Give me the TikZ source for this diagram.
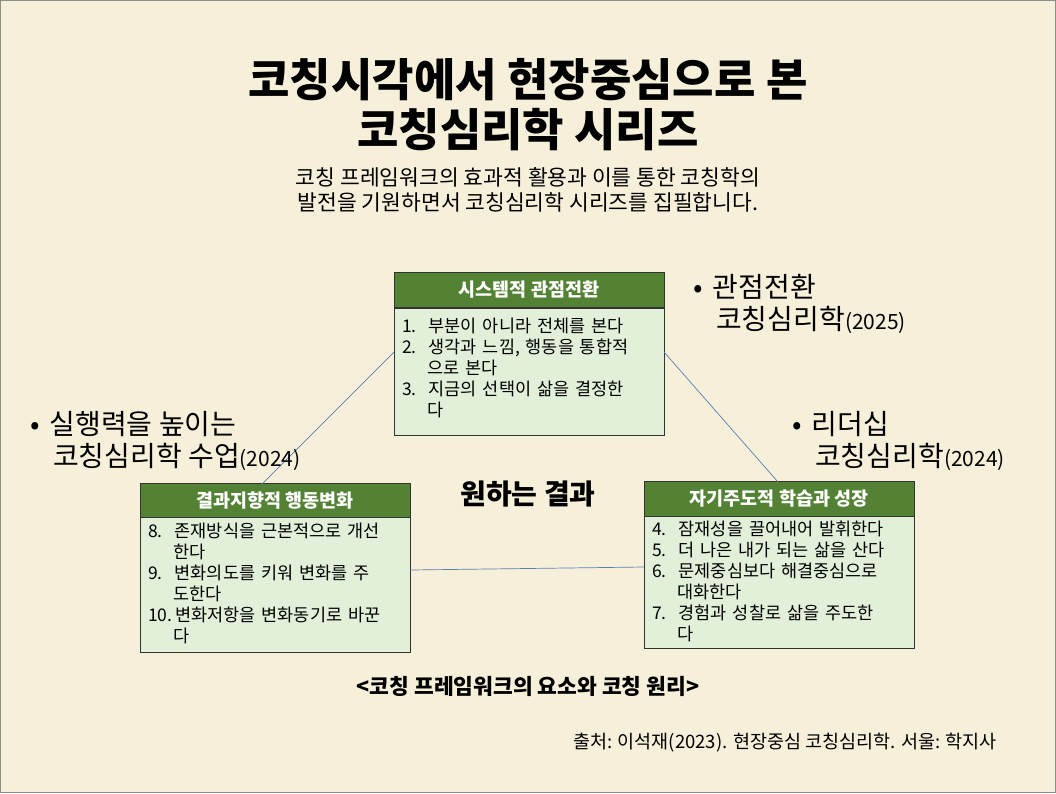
\documentclass[tikz,border=0pt]{standalone}
\usepackage{fontspec}
\setmainfont{Noto Sans CJK KR}
\definecolor{bg}{HTML}{F6F0DA}
\definecolor{hdr}{HTML}{548235}
\definecolor{bodyc}{HTML}{E2F0D9}
\definecolor{ln}{HTML}{5B7DB1}
\tikzset{
 hdrbox/.style={fill=hdr,draw=black!80,line width=0.8pt,text=white,font=\bfseries\fontsize{18.5}{20}\selectfont,minimum width=270pt,minimum height=35pt,inner sep=0pt},
 bodybox/.style={fill=bodyc,draw=black!80,line width=0.8pt,minimum width=270pt,anchor=north,inner sep=0pt},
 item/.style={font=\fontsize{17.5}{21}\selectfont,align=left,anchor=north west,text width=262pt,inner sep=0pt},
 conn/.style={draw=ln,line width=0.7pt},
 bul/.style={font=\fontsize{28}{32}\selectfont,align=left,anchor=north west,inner sep=0pt}
}
\begin{document}
\begin{tikzpicture}[x=1pt,y=-1pt]
\fill[bg] (0,0) rectangle (1056,793);
\draw[black!45,line width=1pt] (0.5,0.5) rectangle (1055.5,792.5);
\node[font=\bfseries\fontsize{45}{50}\selectfont,align=center] (title) at (528,105) {코칭시각에서 현장중심으로 본\\코칭심리학 시리즈};
\node[font=\fontsize{21.5}{25}\selectfont,align=center] (sub) at (528,190) {코칭 프레임워크의 효과적 활용과 이를 통한 코칭학의\\발전을 기원하면서 코칭심리학 시리즈를 집필합니다.};
% top box
\node[hdrbox] (th) at (529,289.5) {시스템적 관점전환};
\node[bodybox,minimum height=127pt] (tb) at (529,308) {};
\node[item] (ti) at (402,318) {1.\hspace{12pt}부분이 아니라 전체를 본다\\2.\hspace{12pt}생각과 느낌, 행동을 통합적\\\hspace{25pt}으로 본다\\3.\hspace{12pt}지금의 선택이 삶을 결정한\\\hspace{25pt}다};
% left box
\node[hdrbox] (lh) at (275,500.5) {결과지향적 행동변화};
\node[bodybox,minimum height=135pt] (lb) at (275,517) {};
\node[item] (li) at (148,523) {8.\hspace{12pt}존재방식을 근본적으로 개선\\\hspace{25pt}한다\\9.\hspace{12pt}변화의도를 키워 변화를 주\\\hspace{25pt}도한다\\10.\,변화저항을 변화동기로 바꾼\\\hspace{25pt}다};
% right box
\node[hdrbox] (rh) at (779,499) {자기주도적 학습과 성장};
\node[bodybox,minimum height=132pt] (rb) at (779,516) {};
\node[item] (ri) at (652,521) {4.\hspace{12pt}잠재성을 끌어내어 발휘한다\\5.\hspace{12pt}더 나은 내가 되는 삶을 산다\\6.\hspace{12pt}문제중심보다 해결중심으로\\\hspace{25pt}대화한다\\7.\hspace{12pt}경험과 성찰로 삶을 주도한\\\hspace{25pt}다};
% connectors
\coordinate (t1) at (394,352); \coordinate (t2) at (664,352);
\coordinate (l1) at (262,484); \coordinate (l2) at (410,570);
\coordinate (r1) at (778,482); \coordinate (r2) at (644,567);
\draw[conn] (t1) -- (l1);
\draw[conn] (t2) -- (r1);
\draw[conn] (l2) -- (r2);
\node[font=\bfseries\fontsize{28}{32}\selectfont] (center) at (528,494) {원하는 결과};
\node[bul] (b1) at (693,274) {•\hspace{10pt}관점전환\\\hspace{23pt}코칭심리학{\fontsize{21}{24}\selectfont(2025)}};
\node[bul] (b2) at (30,411) {•\hspace{10pt}실행력을 높이는\\\hspace{23pt}코칭심리학 수업{\fontsize{21}{24}\selectfont(2024)}};
\node[bul] (b3) at (792,411) {•\hspace{10pt}리더십\\\hspace{23pt}코칭심리학{\fontsize{21}{24}\selectfont(2024)}};
\node[font=\bfseries\fontsize{21.5}{25}\selectfont] (cap) at (528,686) {<코칭 프레임워크의 요소와 코칭 원리>};
\node[font=\fontsize{18.5}{22}\selectfont] (src) at (785,743) {출처: 이석재(2023). 현장중심 코칭심리학. 서울: 학지사};
\end{tikzpicture}
\end{document}
